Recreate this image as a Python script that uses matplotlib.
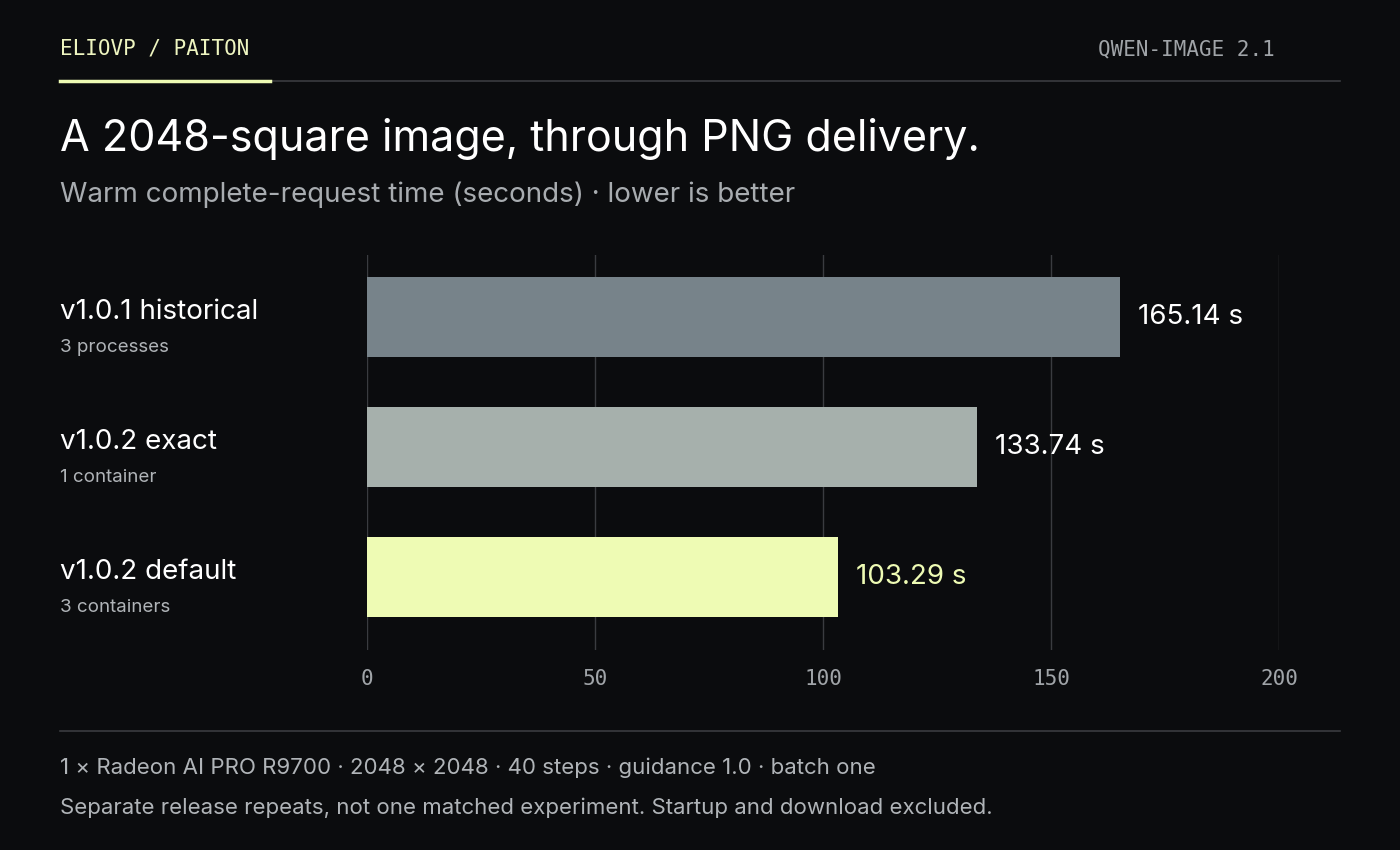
import matplotlib
matplotlib.use("Agg")
import matplotlib.pyplot as plt
from matplotlib.lines import Line2D

labels = ["v1.0.1 historical", "v1.0.2 exact", "v1.0.2 default"]
sublabels = ["3 processes", "1 container", "3 containers"]
values = [165.14, 133.74, 103.29]
ticks = [0, 50, 100, 150, 200]

BG = "#0b0c0e"
colors = ["#77838a", "#a6b0ac", "#eefbb4"]
val_colors = ["#ffffff", "#ffffff", "#eefbb4"]
SANS = ["Inter", "DejaVu Sans"]
MONO = ["DejaVu Sans Mono"]

fig = plt.figure(figsize=(14, 8.5), dpi=100, facecolor=BG)
W, H = 1400, 850
def fx(px): return px / W
def fy(py): return 1 - py / H

ax = fig.add_axes([fx(367), fy(650), fx(1279) - fx(367), fy(255) - fy(650)])
ax.set_facecolor(BG)
y = list(range(len(values)))
ax.barh(y, values, height=0.61, color=colors, zorder=2)
ax.set_xlim(0, 200)
ax.set_ylim(2.562, -0.477)
ax.set_xticks(ticks)
for t in ticks:
    ax.axvline(t, color="#3a3c40", lw=1, zorder=1)
ax.tick_params(axis="x", length=0, pad=14, labelsize=15, colors="#a0a4a8")
for lab in ax.get_xticklabels():
    lab.set_fontfamily(MONO)
ax.set_yticks([])
for s in ax.spines.values():
    s.set_visible(False)
for i, v in enumerate(values):
    ax.text(v + 4, i, f"{v:.2f} s", va="center", ha="left", fontsize=20,
            color=val_colors[i], family=SANS)
    cy = 317 + 130 * i
    fig.text(fx(60), fy(cy - 5), labels[i], fontsize=20, color="#ffffff",
             family=SANS, va="center")
    fig.text(fx(60), fy(cy + 31), sublabels[i], fontsize=13.5, color="#b0b4b8",
             family=SANS, va="center")

# header
fig.text(fx(60), fy(49), "ELIOVP / PAITON", fontsize=15, color="#eef5c0",
         family=MONO, va="center")
fig.text(fx(1275), fy(49), "QWEN-IMAGE 2.1", fontsize=15, color="#a0a4a8",
         family=MONO, va="center", ha="right")
fig.add_artist(Line2D([fx(60), fx(1340)], [fy(81), fy(81)], color="#3a3c40", lw=1.2))
fig.add_artist(Line2D([fx(60), fx(270)], [fy(81), fy(81)], color="#eefbb4", lw=2.5))

fig.text(fx(60), fy(139), "A 2048-square image, through PNG delivery.", fontsize=31,
         color="#ffffff", family=SANS, va="center")
fig.text(fx(60), fy(195), "Warm complete-request time (seconds) · lower is better",
         fontsize=20, color="#a8acb0", family=SANS, va="center")

fig.add_artist(Line2D([fx(60), fx(1340)], [fy(731), fy(731)], color="#3a3c40", lw=1.2))
fig.text(fx(60), fy(768), "1 × Radeon AI PRO R9700 · 2048 × 2048 · 40 steps · guidance 1.0 · batch one",
         fontsize=16, color="#b0b4b8", family=SANS, va="center")
fig.text(fx(60), fy(808), "Separate release repeats, not one matched experiment. Startup and download excluded.",
         fontsize=16, color="#b0b4b8", family=SANS, va="center")

fig.savefig("out.png", dpi=100, facecolor=BG)
